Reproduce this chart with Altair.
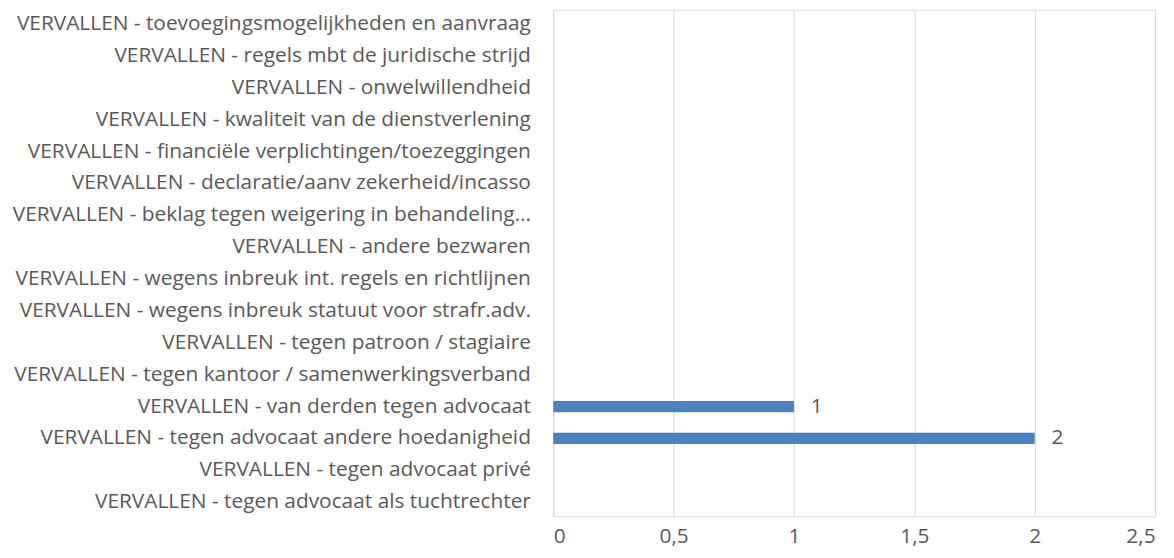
import altair as alt
import pandas as pd

categories = [
    "VERVALLEN - toevoegingsmogelijkheden en aanvraag",
    "VERVALLEN - regels mbt de juridische strijd",
    "VERVALLEN - onwelwillendheid",
    "VERVALLEN - kwaliteit van de dienstverlening",
    "VERVALLEN - financiële verplichtingen/toezeggingen",
    "VERVALLEN - declaratie/aanv zekerheid/incasso",
    "VERVALLEN - beklag tegen weigering in behandeling…",
    "VERVALLEN - andere bezwaren",
    "VERVALLEN - wegens inbreuk int. regels en richtlijnen",
    "VERVALLEN - wegens inbreuk statuut voor strafr.adv.",
    "VERVALLEN - tegen patroon / stagiaire",
    "VERVALLEN - tegen kantoor / samenwerkingsverband",
    "VERVALLEN - van derden tegen advocaat",
    "VERVALLEN - tegen advocaat andere hoedanigheid",
    "VERVALLEN - tegen advocaat privé",
    "VERVALLEN - tegen advocaat als tuchtrechter",
]
values = [None, None, None, None, None, None, None, None, None, None, None, None, 1, 2, None, None]
x_ticks = [0, 0.5, 1, 1.5, 2, 2.5]

df = pd.DataFrame({"cat": categories, "val": values})

FONT = "Open Sans"
TXT = "#595959"
FS = 21

x = alt.X(
    "val:Q",
    scale=alt.Scale(domain=[0, 2.5], nice=False),
    axis=alt.Axis(
        values=x_ticks,
        labelExpr="replace(format(datum.value, ''), '.', ',')",
        title=None,
        domain=False,
        ticks=False,
        grid=True,
        gridColor="#d9d9d9",
        gridWidth=1,
        labelPadding=9,
        labelFont=FONT,
        labelFontSize=FS,
        labelColor=TXT,
    ),
)
y = alt.Y(
    "cat:N",
    sort=categories,
    scale=alt.Scale(paddingInner=0.65, paddingOuter=0.27),
    axis=alt.Axis(
        title=None,
        domain=False,
        ticks=False,
        labelPadding=23,
        labelLimit=1000,
        labelFont=FONT,
        labelFontSize=FS,
        labelColor=TXT,
    ),
)

bars = alt.Chart(df).mark_bar(color="#4F81BD").encode(x=x, y=y)
labels = (
    alt.Chart(df)
    .transform_filter("datum.val != null")
    .mark_text(align="left", dx=17, font=FONT, fontSize=FS, color=TXT)
    .encode(x=alt.X("val:Q"), y=alt.Y("cat:N", sort=categories), text=alt.Text("val:Q"))
)

chart = (
    alt.layer(bars, labels)
    .properties(
        width=606,
        height=510,
        autosize=alt.AutoSizeParams(type="none"),
        padding={"left": 549, "top": 0, "right": 11, "bottom": 32},
    )
    .configure_view(stroke=None)
    .configure(background="white")
)

chart.save("out.html", embed_options={"renderer": "svg", "actions": False})
